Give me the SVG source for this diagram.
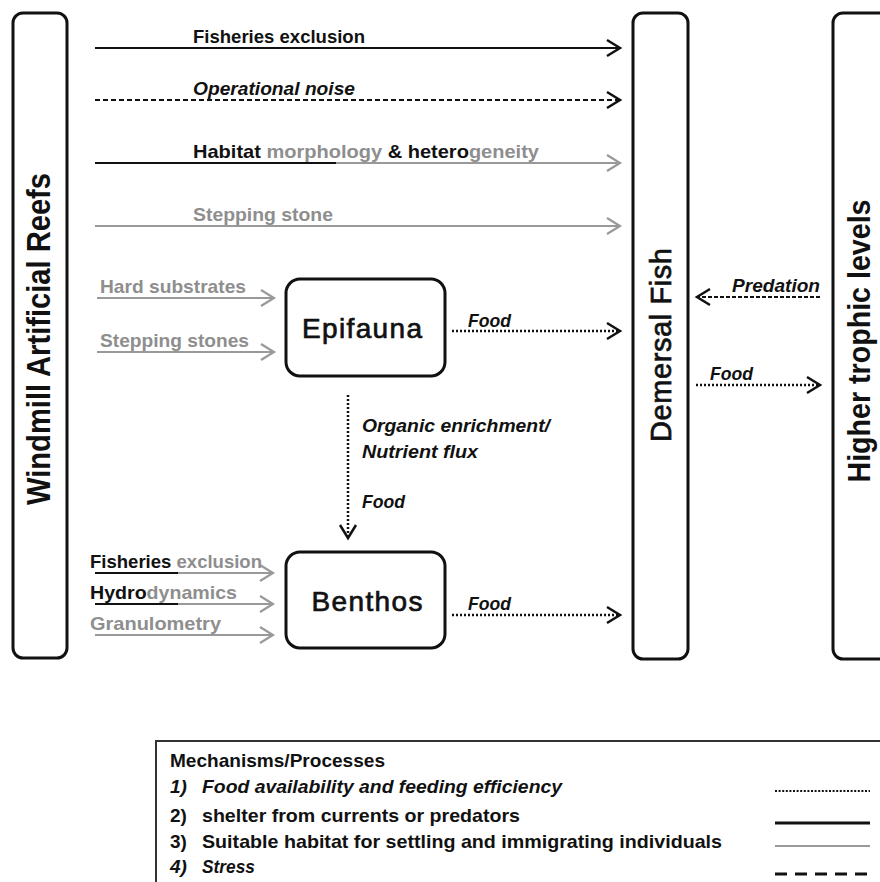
<svg xmlns="http://www.w3.org/2000/svg" width="880" height="882" viewBox="0 0 880 882">
<style>
  .box { fill: #fff; stroke: #111; stroke-width: 3; }
  .big { font-family: "Liberation Sans", Arial, sans-serif; fill: #111; }
  .lbl { font-family: "Liberation Sans", Arial, sans-serif; font-weight: bold; font-size: 19px; fill: #111; }
  .it { font-style: italic; }
  .g { fill: #8e8e8e; }
  .k { fill: #111; }
  .lnk { stroke: #111; stroke-width: 2.2; fill: none; }
  .lng { stroke: #999; stroke-width: 2.2; fill: none; }
  .dot { stroke: #111; stroke-width: 2.5; fill: none; stroke-dasharray: 2 2; }
  .dash { stroke: #111; stroke-width: 2.2; fill: none; stroke-dasharray: 5 3; }
  .leg { font-family: "Liberation Sans", Arial, sans-serif; font-size: 19px; font-weight: bold; fill: #111; }
</style>
<defs>
  <marker id="ak" markerUnits="userSpaceOnUse" markerWidth="18" markerHeight="20" refX="15" refY="10" orient="auto">
    <path d="M2,2 L15,10 L2,18" fill="none" stroke="#111" stroke-width="2.5" stroke-linejoin="miter"/>
  </marker>
  <marker id="ag" markerUnits="userSpaceOnUse" markerWidth="18" markerHeight="20" refX="15" refY="10" orient="auto">
    <path d="M2,2 L15,10 L2,18" fill="none" stroke="#999" stroke-width="2.2"/>
  </marker>
</defs>
<rect width="880" height="882" fill="#fff"/>

<g id="windmill-reefs">
  <rect class="box" x="13" y="13" width="54" height="645" rx="10"/>
  <text class="big" font-size="33" font-weight="bold" text-anchor="middle" textLength="332" lengthAdjust="spacingAndGlyphs" transform="translate(50,339) rotate(-90)">Windmill Artificial Reefs</text>
</g>
<g id="demersal-fish">
  <rect class="box" x="633" y="13" width="55" height="646" rx="10"/>
  <text class="big" font-size="29" text-anchor="middle" textLength="194" stroke="#111" stroke-width="0.7" transform="translate(671,345) rotate(-90)">Demersal Fish</text>
</g>
<g id="higher-trophic">
  <rect class="box" x="833" y="13" width="62" height="646" rx="10"/>
  <text class="big" font-size="31" font-weight="bold" text-anchor="middle" textLength="283" lengthAdjust="spacingAndGlyphs" transform="translate(870,341) rotate(-90)">Higher trophic levels</text>
</g>
<g id="epifauna">
  <rect class="box" x="286" y="279" width="159" height="97" rx="14"/>
  <text class="big" font-size="28" text-anchor="middle" textLength="120" stroke="#111" stroke-width="0.7" x="362" y="338">Epifauna</text>
</g>
<g id="benthos">
  <rect class="box" x="286" y="552" width="159" height="96" rx="14"/>
  <text class="big" font-size="28" text-anchor="middle" textLength="111" stroke="#111" stroke-width="0.7" x="367" y="611">Benthos</text>
</g>

<g id="connectors">
  <!-- reefs to demersal fish -->
  <line class="lnk" x1="95" y1="48" x2="620" y2="48" marker-end="url(#ak)"/>
  <line class="dash" x1="95" y1="100" x2="620" y2="100" marker-end="url(#ak)"/>
  <line class="lnk" x1="95" y1="163" x2="336" y2="163"/>
  <line class="lng" x1="336" y1="163" x2="620" y2="163" marker-end="url(#ag)"/>
  <line class="lng" x1="95" y1="226" x2="620" y2="226" marker-end="url(#ag)"/>
  <!-- reefs to epifauna -->
  <line class="lng" x1="97" y1="298" x2="274" y2="298" marker-end="url(#ag)"/>
  <line class="lng" x1="97" y1="352" x2="274" y2="352" marker-end="url(#ag)"/>
  <!-- reefs to benthos -->
  <line class="lnk" x1="95" y1="573" x2="178" y2="573"/>
  <line class="lng" x1="178" y1="573" x2="273" y2="573" marker-end="url(#ag)"/>
  <line class="lnk" x1="95" y1="604" x2="178" y2="604"/>
  <line class="lng" x1="178" y1="604" x2="273" y2="604" marker-end="url(#ag)"/>
  <line class="lng" x1="95" y1="635" x2="273" y2="635" marker-end="url(#ag)"/>
  <!-- epifauna / benthos to demersal fish -->
  <line class="dot" x1="452" y1="331" x2="620" y2="331" marker-end="url(#ak)"/>
  <line class="dot" x1="452" y1="615" x2="620" y2="615" marker-end="url(#ak)"/>
  <!-- epifauna to benthos -->
  <line class="dot" x1="348" y1="395" x2="348" y2="538" marker-end="url(#ak)"/>
  <!-- higher trophic <-> demersal -->
  <line class="dash" x1="820" y1="297" x2="697" y2="297" marker-end="url(#ak)" style="stroke-dasharray:4 2; stroke-width:1.8"/>
  <line class="dot" x1="696" y1="385" x2="820" y2="385" marker-end="url(#ak)"/>

  <!-- labels -->
  <text class="lbl" x="193" y="43" textLength="172" lengthAdjust="spacingAndGlyphs">Fisheries exclusion</text>
  <text class="lbl it" x="193" y="95" textLength="162" lengthAdjust="spacingAndGlyphs">Operational noise</text>
  <text class="lbl" x="193" y="158" textLength="346" lengthAdjust="spacingAndGlyphs"><tspan class="k">Habitat </tspan><tspan class="g">morphology </tspan><tspan class="k">&amp; hetero</tspan><tspan class="g">geneity</tspan></text>
  <text class="lbl g" x="193" y="221" textLength="140" lengthAdjust="spacingAndGlyphs">Stepping stone</text>
  <text class="lbl g" x="100" y="293" textLength="146" lengthAdjust="spacingAndGlyphs">Hard substrates</text>
  <text class="lbl g" x="100" y="347" textLength="149" lengthAdjust="spacingAndGlyphs">Stepping stones</text>
  <text class="lbl" x="90" y="568" textLength="172" lengthAdjust="spacingAndGlyphs"><tspan class="k">Fisheries</tspan><tspan class="g"> exclusion</tspan></text>
  <text class="lbl" x="90" y="599" textLength="147" lengthAdjust="spacingAndGlyphs"><tspan class="k">Hydro</tspan><tspan class="g">dynamics</tspan></text>
  <text class="lbl g" x="90" y="630" textLength="131" lengthAdjust="spacingAndGlyphs">Granulometry</text>
  <text class="lbl it" x="468" y="327" textLength="43" lengthAdjust="spacingAndGlyphs">Food</text>
  <text class="lbl it" x="468" y="610" textLength="43" lengthAdjust="spacingAndGlyphs">Food</text>
  <text class="lbl it" x="362" y="432" textLength="188" lengthAdjust="spacingAndGlyphs">Organic enrichment/</text>
  <text class="lbl it" x="362" y="458" textLength="116" lengthAdjust="spacingAndGlyphs">Nutrient flux</text>
  <text class="lbl it" x="362" y="508" textLength="43" lengthAdjust="spacingAndGlyphs">Food</text>
  <text class="lbl it" x="732" y="292" textLength="88" lengthAdjust="spacingAndGlyphs">Predation</text>
  <text class="lbl it" x="710" y="380" textLength="43" lengthAdjust="spacingAndGlyphs">Food</text>
</g>

<g id="legend">
  <rect x="156" y="741" width="740" height="160" fill="#fff" stroke="#333" stroke-width="2"/>
  <text class="leg" x="170" y="767" textLength="215" lengthAdjust="spacingAndGlyphs">Mechanisms/Processes</text>
  <text class="leg it" x="170" y="793">1)</text>
  <text class="leg it" x="202" y="793" textLength="360" lengthAdjust="spacingAndGlyphs">Food availability and feeding efficiency</text>
  <text class="leg" x="170" y="822">2)</text>
  <text class="leg" x="202" y="822" textLength="318" lengthAdjust="spacingAndGlyphs">shelter from currents or predators</text>
  <text class="leg g" x="170" y="848">3)</text>
  <text class="leg g" x="202" y="848" textLength="520" lengthAdjust="spacingAndGlyphs">Suitable habitat for settling and immigrating individuals</text>
  <text class="leg it" x="170" y="873">4)</text>
  <text class="leg it" x="202" y="873" textLength="53" lengthAdjust="spacingAndGlyphs">Stress</text>
  <line x1="775" y1="791" x2="870" y2="791" stroke="#111" stroke-width="2" stroke-dasharray="2 1.6"/>
  <line x1="775" y1="823" x2="870" y2="823" stroke="#111" stroke-width="3"/>
  <line x1="775" y1="846" x2="870" y2="846" stroke="#999" stroke-width="2"/>
  <line x1="775" y1="874" x2="870" y2="874" stroke="#111" stroke-width="3" stroke-dasharray="12 8"/>
</g>
</svg>
